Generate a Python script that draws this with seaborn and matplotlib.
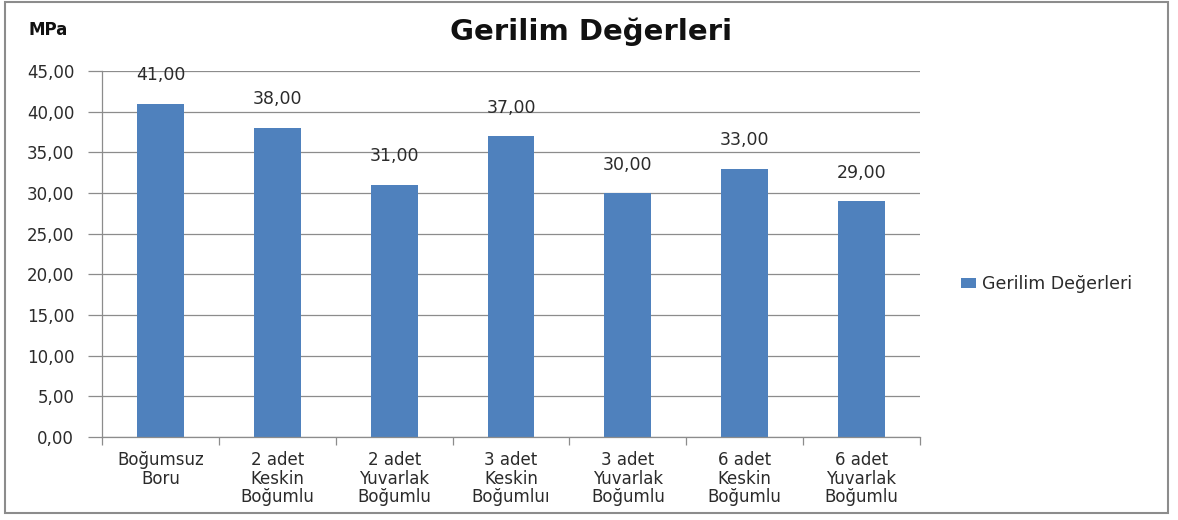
import matplotlib
matplotlib.use("Agg")
import matplotlib.pyplot as plt
import seaborn as sns
import pandas as pd
from matplotlib.patches import Rectangle
from matplotlib.ticker import FixedLocator, FuncFormatter

categories = [
    "Boğumsuz\nBoru",
    "2 adet\nKeskin\nBoğumlu",
    "2 adet\nYuvarlak\nBoğumlu",
    "3 adet\nKeskin\nBoğumluı",
    "3 adet\nYuvarlak\nBoğumlu",
    "6 adet\nKeskin\nBoğumlu",
    "6 adet\nYuvarlak\nBoğumlu",
]
values = [41.00, 38.00, 31.00, 37.00, 30.00, 33.00, 29.00]
series_name = "Gerilim Değerleri"
y_ticks = [0, 5, 10, 15, 20, 25, 30, 35, 40, 45]

sns.set_theme(style="white")
plt.rcParams["font.family"] = ["DejaVu Sans"]

df = pd.DataFrame({"kategori": categories, "deger": values, "seri": series_name})

fig = plt.figure(figsize=(11.78, 5.20), dpi=100)
ax = fig.add_axes([102 / 1178, 1 - 437 / 520, 818 / 1178, 366 / 520])

bar_color = "#4F81BD"
sns.barplot(data=df, x="kategori", y="deger", hue="seri", palette=[bar_color],
            width=0.4, ax=ax, saturation=1, legend=True, linewidth=0)

ax.set_xlim(-0.5, len(categories) - 0.5)
ax.set_ylim(0, 45)
ax.set_yticks(y_ticks)
ax.yaxis.set_major_formatter(FuncFormatter(lambda v, _: f"{v:.2f}".replace(".", ",")))
ax.grid(axis="y", color="#8c8c8c", linewidth=0.9)
ax.set_axisbelow(True)

for side in ["top", "right"]:
    ax.spines[side].set_visible(False)
for side in ["left", "bottom"]:
    ax.spines[side].set_color("#8c8c8c")
    ax.spines[side].set_linewidth(0.9)

text_color = "#2b2b2b"
ax.tick_params(axis="y", length=10, width=0.9, color="#8c8c8c", labelsize=12,
               labelcolor=text_color, pad=10, left=True)
ax.tick_params(axis="x", which="major", length=0, labelsize=12,
               labelcolor=text_color, pad=10)
for lbl in ax.get_xticklabels():
    lbl.set_linespacing(1.05)
ax.xaxis.set_minor_locator(FixedLocator([i - 0.5 for i in range(len(categories) + 1)]))
ax.tick_params(axis="x", which="minor", length=6, width=0.9, color="#8c8c8c", bottom=True)
ax.set_xlabel("")
ax.set_ylabel("")

for cont in ax.containers:
    labels = [f"{v:.2f}".replace(".", ",") for v in cont.datavalues]
    ax.bar_label(cont, labels=labels, padding=14, fontsize=12.5, color=text_color)

leg = ax.legend(loc="center left", bbox_to_anchor=(1.05, 0.418), frameon=False,
                fontsize=12.5, handlelength=0.85, handleheight=0.5, handletextpad=0.35,
                borderpad=0, borderaxespad=0)
for t in leg.get_texts():
    t.set_color(text_color)

fig.text(591 / 1178, 1 - 32 / 520, "Gerilim Değerleri", ha="center", va="center",
         fontsize=21, fontweight="bold", color="#111111")
fig.text(28 / 1178, 1 - 30 / 520, "MPa", ha="left", va="center",
         fontsize=12, fontweight="bold", color="#111111")

fig.patches.append(Rectangle((5 / 1178, 1 - 513 / 520), 1163 / 1178, 511 / 520,
                             transform=fig.transFigure, fill=False,
                             edgecolor="#8c8c8c", linewidth=1.5))

fig.savefig("out.png", dpi=100)
